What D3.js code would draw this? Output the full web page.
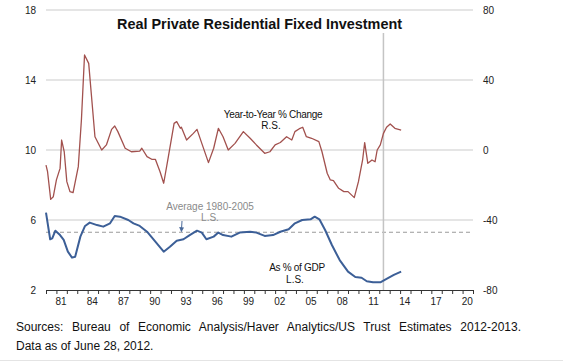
<!DOCTYPE html>
<html>
<head>
<meta charset="utf-8">
<script src="https://cdn.jsdelivr.net/npm/d3@7"></script>
<style>
  body { margin: 0; background: #fff; }
  svg { display: block; font-family: "Liberation Sans", Arial, sans-serif; }
  .tick-label { font-size: 10px; fill: #222; }
  .note { font-size: 10px; fill: #111; }
</style>
</head>
<body>
<svg id="chart"></svg>
<script>
// Real private residential fixed investment as % of GDP (left scale).
const gdpYears = [1980.0, 1980.4, 1980.6, 1980.9, 1981.35, 1981.7, 1982.1, 1982.5, 1982.8, 1983.3,
  1983.75, 1984.2, 1984.9, 1985.5, 1986.15, 1986.6, 1987.1, 1987.9, 1988.4, 1989.0,
  1989.7, 1990.5, 1991.3, 1991.9, 1992.55, 1993.2, 1993.8, 1994.5, 1994.96, 1995.4,
  1996.1, 1996.55, 1997.0, 1997.8, 1998.6, 1999.6, 2000.2, 2001.0, 2001.8, 2002.5,
  2003.3, 2003.9, 2004.6, 2005.4, 2005.8, 2006.25, 2006.8, 2007.45, 2008.2, 2009.0,
  2009.7, 2010.3, 2010.8, 2011.4, 2012.1, 2012.7, 2013.4, 2014.1];
const gdpShare = [6.42, 4.90, 4.95, 5.39, 5.14, 4.86, 4.19, 3.85, 3.90, 5.05,
  5.66, 5.85, 5.71, 5.62, 5.81, 6.23, 6.19, 6.00, 5.81, 5.66,
  5.33, 4.76, 4.19, 4.47, 4.82, 4.90, 5.14, 5.39, 5.28, 4.90,
  5.05, 5.28, 5.14, 5.05, 5.28, 5.33, 5.28, 5.09, 5.14, 5.33,
  5.47, 5.81, 6.00, 6.04, 6.19, 6.04, 5.43, 4.57, 3.71, 3.05,
  2.74, 2.70, 2.50, 2.44, 2.44, 2.63, 2.86, 3.05];

// Year-to-year % change (right scale).
const yoyYears = [1980.0, 1980.15, 1980.45, 1980.7, 1981.0, 1981.35, 1981.5, 1981.75, 1982.0, 1982.3,
  1982.6, 1983.1, 1983.4, 1983.7, 1984.1, 1984.4, 1984.7, 1985.35, 1985.8, 1986.3,
  1986.6, 1986.9, 1987.6, 1988.2, 1989.0, 1989.2, 1989.7, 1990.15, 1990.5, 1990.95,
  1991.3, 1991.75, 1992.3, 1992.55, 1992.9, 1993.0, 1993.5, 1994.15, 1994.5, 1994.96,
  1995.6, 1996.1, 1996.55, 1997.0, 1997.5, 1998.15, 1998.95, 1999.6, 2000.2, 2001.0,
  2001.5, 2002.0, 2002.5, 2003.1, 2003.6, 2003.9, 2004.4, 2004.65, 2005.0, 2005.5,
  2006.2, 2006.5, 2007.0, 2007.3, 2007.6, 2008.1, 2008.6, 2009.0, 2009.6, 2010.0,
  2010.4, 2010.6, 2010.9, 2011.3, 2011.6, 2011.8, 2012.1, 2012.4, 2012.7, 2013.05,
  2013.5, 2014.1];
const yoyChange = [-8.6, -12.4, -28.2, -26.7, -17.1, -10.5, 5.7, -1.0, -18.1, -23.8,
  -24.4, -9.5, 17.1, 54.3, 49.5, 28.6, 7.6, 0.0, 2.9, 11.8,
  13.7, 10.5, 1.0, -1.0, -0.6, 1.0, -3.8, -5.3, -5.3, -12.4,
  -19.0, -3.8, 15.2, 16.2, 12.4, 13.0, 5.7, 9.5, 11.8, 3.8,
  -7.2, 1.0, 12.4, 7.6, 0.0, 3.8, 10.5, 6.7, 2.9, -1.9,
  -1.0, 2.9, 4.3, 7.6, 5.7, 10.5, 12.4, 13.0, 7.6, 6.7,
  4.8, -1.0, -13.3, -17.1, -17.5, -21.9, -23.8, -23.8, -27.2, -18.1,
  -5.7, 4.2, -7.6, -5.7, -6.7, 0.0, 2.9, 9.5, 13.0, 14.9,
  12.4, 11.4];

// Reference values.
const average1980to2005 = 5.3;
const estimateStart = 2012.4;

// Axis ticks.
const leftTicks = [2, 6, 10, 14, 18];
const rightTicks = [-80, -40, 0, 40, 80];
const yearLabels = [1981, 1984, 1987, 1990, 1993, 1996, 1999, 2002, 2005, 2008, 2011, 2014, 2017, 2020];

const width = 563;
const height = 363;
const margin = { top: 10, bottom: 73, left: 46, right: 90 };

const svg = d3.select("#chart")
  .attr("width", width)
  .attr("height", height);

function translate(x, y) {
  return "translate(" + String(x) + "," + String(y) + ")";
}

const xScale = d3.scaleLinear()
  .domain([1980, 2021])
  .range([margin.left, width - margin.right]);

const yLeft = d3.scaleLinear()
  .domain([2, 18])
  .range([height - margin.bottom, margin.top]);

const yRight = d3.scaleLinear()
  .domain([-80, 80])
  .range([height - margin.bottom, margin.top]);

drawGrid();
drawAxis();
drawLines();
drawNotes();
drawTitle();
drawSources();

/*
 * horizontal gridlines and the estimate marker
 */
function drawGrid() {
  svg.append("g")
    .attr("id", "grid")
    .selectAll("line")
    .data(leftTicks.filter(d => d > 2))
    .enter()
    .append("line")
    .attr("x1", xScale(1980))
    .attr("x2", xScale(2021))
    .attr("y1", d => yLeft(d))
    .attr("y2", d => yLeft(d))
    .style("stroke", "#dcdcdc")
    .style("stroke-width", 1.5);

  svg.append("line")
    .attr("x1", xScale(1980))
    .attr("x2", xScale(2021))
    .attr("y1", yLeft(average1980to2005))
    .attr("y2", yLeft(average1980to2005))
    .style("stroke", "#9a9a9a")
    .style("stroke-width", 1)
    .style("stroke-dasharray", "4,3");

  svg.append("line")
    .attr("x1", xScale(estimateStart))
    .attr("x2", xScale(estimateStart))
    .attr("y1", 33)
    .attr("y2", yLeft(2))
    .style("stroke", "#c4c4c4")
    .style("stroke-width", 1.5);
}

function drawAxis() {
  let xAxis = d3.axisBottom(xScale)
    .tickValues(d3.range(1980, 2022))
    .tickSize(4)
    .tickSizeOuter(0)
    .tickFormat("");

  let axisGroup = svg.append("g")
    .attr("id", "x-axis")
    .attr("transform", translate(0, yLeft(2)))
    .call(xAxis);
  axisGroup.select(".domain").style("stroke", "#333");
  axisGroup.selectAll(".tick line").style("stroke", "#333");

  svg.append("g")
    .attr("id", "x-labels")
    .selectAll("text")
    .data(yearLabels)
    .enter()
    .append("text")
    .attr("class", "tick-label")
    .attr("x", d => xScale(d + 0.45))
    .attr("y", yLeft(2) + 15)
    .attr("text-anchor", "middle")
    .text(d => String(d % 100).padStart(2, "0"));

  svg.append("g")
    .attr("id", "y-left")
    .selectAll("text")
    .data(leftTicks)
    .enter()
    .append("text")
    .attr("class", "tick-label")
    .attr("x", 36)
    .attr("y", d => yLeft(d))
    .attr("dy", "0.35em")
    .attr("text-anchor", "end")
    .text(d => d);

  svg.append("g")
    .attr("id", "y-right")
    .selectAll("text")
    .data(rightTicks)
    .enter()
    .append("text")
    .attr("class", "tick-label")
    .attr("x", 483)
    .attr("y", d => yRight(d))
    .attr("dy", "0.35em")
    .text(d => d);
}

function drawLines() {
  let gdpLine = d3.line()
    .x(i => xScale(gdpYears[i]))
    .y(i => yLeft(gdpShare[i]));

  let yoyLine = d3.line()
    .x(i => xScale(yoyYears[i]))
    .y(i => yRight(yoyChange[i]));

  svg.append("path")
    .attr("id", "yoy")
    .attr("d", yoyLine(d3.range(yoyYears.length)))
    .style("fill", "none")
    .style("stroke", "#a2514e")
    .style("stroke-width", 1.3)
    .style("stroke-linejoin", "round");

  svg.append("path")
    .attr("id", "gdp")
    .attr("d", gdpLine(d3.range(gdpYears.length)))
    .style("fill", "none")
    .style("stroke", "#3c5f97")
    .style("stroke-width", 2)
    .style("stroke-linejoin", "round");
}

function drawNotes() {
  let notes = svg.append("g").attr("id", "notes");

  notes.append("text").attr("class", "note")
    .attr("x", 273).attr("y", 118).attr("text-anchor", "middle")
    .style("letter-spacing", "-0.3px")
    .text("Year-to-Year % Change");
  notes.append("text").attr("class", "note")
    .attr("x", 271).attr("y", 129).attr("text-anchor", "middle")
    .text("R.S.");

  notes.append("text").attr("class", "note")
    .attr("x", 210).attr("y", 210).attr("text-anchor", "middle")
    .style("fill", "#8a8a8a")
    .text("Average 1980-2005");
  notes.append("text").attr("class", "note")
    .attr("x", 210).attr("y", 221).attr("text-anchor", "middle")
    .style("fill", "#8a8a8a")
    .text("L.S.");

  // small arrow pointing at the average line
  let defs = svg.append("defs");
  defs.append("marker")
    .attr("id", "arrow")
    .attr("viewBox", "0 0 10 10")
    .attr("refX", 8).attr("refY", 5)
    .attr("markerWidth", 5).attr("markerHeight", 5)
    .attr("orient", "auto")
    .append("path")
    .attr("d", "M0,0L10,5L0,10z")
    .style("fill", "#4a6a9a");

  notes.append("line")
    .attr("x1", 182).attr("y1", 221)
    .attr("x2", xScale(1993.0)).attr("y2", yLeft(average1980to2005) - 1)
    .style("stroke", "#4a6a9a")
    .style("stroke-width", 1)
    .attr("marker-end", "url(#arrow)");

  notes.append("text").attr("class", "note")
    .attr("x", 297).attr("y", 271).attr("text-anchor", "middle")
    .style("letter-spacing", "-0.3px")
    .text("As % of GDP");
  notes.append("text").attr("class", "note")
    .attr("x", 295).attr("y", 283).attr("text-anchor", "middle")
    .text("L.S.");
}

function drawTitle() {
  svg.append("text")
    .attr("x", (xScale.range()[0] + xScale.range()[1]) / 2)
    .attr("y", 29)
    .attr("text-anchor", "middle")
    .attr("textLength", 285)
    .attr("lengthAdjust", "spacingAndGlyphs")
    .style("font-size", "14px")
    .style("font-weight", "bold")
    .style("fill", "#111")
    .text("Real Private Residential Fixed Investment");
}

function drawSources() {
  let line1 = svg.append("text")
    .attr("x", 16)
    .attr("y", 331)
    .style("font-size", "12px")
    .style("fill", "#111")
    .text("Sources: Bureau of Economic Analysis/Haver Analytics/US Trust Estimates 2012-2013.");

  // justify the first line by widening the word gaps
  let natural = line1.node().getComputedTextLength();
  let gaps = line1.text().split(" ").length - 1;
  line1.style("word-spacing", ((505 - natural) / gaps) + "px");

  svg.append("text")
    .attr("x", 16)
    .attr("y", 350)
    .style("font-size", "12px")
    .style("fill", "#111")
    .text("Data as of June 28, 2012.");

  // faint frame of the screenshot
  svg.append("line")
    .attr("x1", 0).attr("x2", width)
    .attr("y1", 360.5).attr("y2", 360.5)
    .style("stroke", "#e4e4e4");
}
</script>
</body>
</html>
